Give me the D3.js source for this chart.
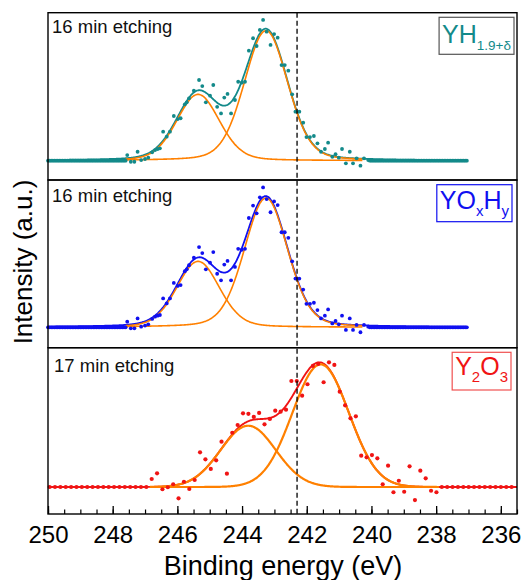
<!DOCTYPE html>
<html><head><meta charset="utf-8">
<script src="https://cdn.jsdelivr.net/npm/d3@7"></script>
<style>
body{margin:0;background:#fff}
svg{display:block}
text{font-family:"Liberation Sans",Arial,Helvetica,sans-serif}
</style>
</head><body>
<svg id="c" width="525" height="580"></svg>
<script>
// ---------------- DATA ----------------
// x ticks (binding energy, eV)
const xTickLabels = [250, 248, 246, 244, 242, 240, 238, 236];
const referenceEnergy = 242.3; // dashed line

// YH(1.9+d) and YOxHy spectra (16 min etching) - measured points in peak region
const energyYH = [247.55,247.44,247.33,247.23,247.12,247.00,246.90,246.78,246.69,246.61,246.54,246.44,246.33,246.23,246.11,245.99,245.90,245.77,245.71,245.64,245.49,245.33,245.23,245.12,244.99,244.89,244.77,244.65,244.55,244.45,244.34,244.22,244.12,244.01,243.91,243.79,243.66,243.55,243.45,243.35,243.24,243.12,243.01,242.90,242.78,242.68,242.57,242.45,242.35,242.23,242.11,242.01,241.90,241.78,241.67,241.56,241.44,241.34,241.21,241.11,241.01,240.91,240.79,240.67,240.57,240.46,240.34,240.23,240.10];
const intensityYH = [0.043,-0.008,-0.008,0.068,0.005,0.013,0.023,0.064,0.081,0.089,0.094,0.221,0.183,0.221,0.340,0.317,0.323,0.429,0.444,0.475,0.533,0.614,0.568,0.444,0.495,0.576,0.410,0.360,0.480,0.508,0.360,0.462,0.601,0.594,0.601,0.837,0.932,0.873,0.995,1.071,0.982,0.881,0.964,0.936,0.728,0.728,0.685,0.505,0.373,0.373,0.289,0.180,0.180,0.188,0.132,0.068,0.089,0.137,0.030,0.049,0.023,0.089,-0.020,0.068,-0.020,0.018,-0.038,0.018,0.005];
// flat baseline segments of the 16 min spectra [start, end, step], intensity 0
const baselineYH = [[250, 247.6, 0.05], [240.05, 237.05, 0.05]];

// Y2O3 spectrum (17 min etching), points on a regular grid
const energyY2O3Start = 249.95, energyY2O3Step = 0.1661, energyY2O3Count = 87;
const peakIndexY2O3 = 19; // first index of the listed values; the rest are baseline (0)
const intensityY2O3 = [0.064,0.109,-0.018,-0.002,0.022,-0.090,0.042,-0.016,0.056,0.277,0.221,0.144,0.213,0.362,0.106,0.433,0.495,0.588,0.584,0.559,0.591,0.500,0.543,0.609,0.601,0.617,0.846,0.846,0.729,0.820,0.966,0.982,0.836,0.995,0.974,0.761,0.652,0.548,0.564,0.250,0.237,0.255,0.229,0.022,0.170,-0.042,0.050,-0.038,0.165,-0.104,0.130,0.069,-0.030,-0.042,0.000,0.000];

// fitted components: centers (eV), heights, FWHM (eV), Lorentz fraction
const fitCentersYH = [245.36, 243.26];
const fitHeightsYH = [0.505, 0.99];
const fitFwhmYH = [1.56, 1.58];
const fitMixYH = 0.2;
const fitRangeYH = [250, 237.05];
const compRangeYH = [247.6, 240.27];

const fitCentersY2O3 = [243.81, 241.57];
const fitHeightsY2O3 = [0.489, 0.979];
const fitFwhmY2O3 = [2.0, 2.05];
const fitMixY2O3 = 0.0;
const fitRangeY2O3 = [250, 235.5];
const compRangeY2O3 = [246.85, 237.9];

const etchLabels = ["16 min etching", "16 min etching", "17 min etching"];

// ---------------- DRAW ----------------
const svg = d3.select("#c");
const L = 48, R = 517;
const x = d3.scaleLinear().domain([250, 235.5]).range([L, R]);

const panels = [
  {top: 12.7, bottom: 180, dom: [-0.1469, 1.1263], color: "#138a8a",
   pts: "YH", centers: fitCentersYH, heights: fitHeightsYH, fwhm: fitFwhmYH, mix: fitMixYH,
   fitRange: fitRangeYH, compRange: compRangeYH, r: 1.9, lw: 1.8, cw: 1.6,
   label: etchLabels[0], lx: 52, ly: 33,
   box: {right: 514, top: 17.3, bottom: 54.3, base: 43, parts: [["YH", 25, 0], ["1.9+δ", 13.5, 1]], stroke: "#555"}},
  {top: 180, bottom: 347.7, dom: [-0.1562, 1.1279], color: "#1010f0",
   pts: "YH", centers: fitCentersYH, heights: fitHeightsYH, fwhm: fitFwhmYH, mix: fitMixYH,
   fitRange: fitRangeYH, compRange: compRangeYH, r: 1.9, lw: 1.8, cw: 1.6,
   label: etchLabels[1], lx: 52, ly: 201.5,
   box: {right: 512, top: 184.7, bottom: 221.7, base: 209, parts: [["YO", 25, 0], ["x", 15, 1], ["H", 25, 0], ["y", 15, 1]], stroke: "#1010f0"}},
  {top: 347.7, bottom: 514, dom: [-0.2155, 1.1118], color: "#f01414",
   pts: "Y2O3", centers: fitCentersY2O3, heights: fitHeightsY2O3, fwhm: fitFwhmY2O3, mix: fitMixY2O3,
   fitRange: fitRangeY2O3, compRange: compRangeY2O3, r: 2.1, lw: 1.9, cw: 2.2,
   label: etchLabels[2], lx: 54, ly: 372,
   box: {right: 511, top: 352.3, bottom: 390, base: 375, parts: [["Y", 25, 0], ["2", 15, 1], ["O", 25, 0], ["3", 15, 1]], stroke: "#f05050"}}
];

function pv(e, c, h, w, eta) {
  const d = e - c;
  const g = Math.exp(-4 * Math.LN2 * d * d / (w * w));
  const l = 1 / (1 + 4 * d * d / (w * w));
  return h * ((1 - eta) * g + eta * l);
}
function sample(a, b) { const out = []; for (let e = a; e >= b - 1e-9; e -= 0.02) out.push(e); return out; }

panels.forEach(p => {
  const y = d3.scaleLinear().domain(p.dom).range([p.bottom, p.top]);
  const g = svg.append("g");
  let pts = [];
  if (p.pts === "YH") {
    baselineYH.forEach(([a, b, s]) => d3.range(a, b - 1e-9, -s).forEach(e => pts.push([e, 0])));
    energyYH.forEach((e, i) => pts.push([e, intensityYH[i]]));
  } else {
    for (let k = 0; k < energyY2O3Count; k++) {
      const e = energyY2O3Start - k * energyY2O3Step;
      const j = k - peakIndexY2O3;
      pts.push([e, (j >= 0 && j < intensityY2O3.length) ? intensityY2O3[j] : 0]);
    }
  }
  const line = d3.line().x(d => x(d[0])).y(d => y(d[1])).curve(d3.curveBasis);
  const fitE = sample(p.fitRange[0], p.fitRange[1]);
  const total = fitE.map(e => [e, p.centers.reduce((s, c, i) => s + pv(e, c, p.heights[i], p.fwhm[i], p.mix), 0)]);
  g.append("path").attr("d", line(total)).attr("fill", "none").attr("stroke", p.color).attr("stroke-width", p.lw);
  const compE = sample(p.compRange[0], p.compRange[1]);
  p.centers.forEach((c, i) => {
    const comp = compE.map(e => [e, pv(e, c, p.heights[i], p.fwhm[i], p.mix)]);
    g.append("path").attr("d", line(comp)).attr("fill", "none").attr("stroke", "#ff8000").attr("stroke-width", p.cw);
  });
  g.selectAll("circle.pt").data(pts).join("circle").attr("class", "pt")
    .attr("cx", d => x(d[0])).attr("cy", d => y(d[1])).attr("r", p.r).attr("fill", p.color);
  svg.append("rect").attr("x", L).attr("y", p.top).attr("width", R - L).attr("height", p.bottom - p.top)
    .attr("fill", "none").attr("stroke", "#000").attr("stroke-width", 1.4);
  svg.append("text").attr("x", p.lx).attr("y", p.ly).attr("font-size", 18.5).attr("fill", "#111").text(p.label);
  const t = svg.append("text").attr("y", p.box.base).attr("fill", p.color).attr("text-anchor", "end").attr("x", p.box.right - 3);
  p.box.parts.forEach(([s, fs, sub], i) => {
    const prevSub = i > 0 ? p.box.parts[i - 1][2] : 0;
    const dy = (sub ? 7 : 0) - (prevSub ? 7 : 0);
    t.append("tspan").attr("font-size", fs).attr("dy", dy).text(s);
  });
  const bb = t.node().getBBox();
  svg.insert("rect", "text:last-of-type").attr("x", bb.x - 3).attr("y", p.box.top)
    .attr("width", p.box.right - bb.x + 3).attr("height", p.box.bottom - p.box.top)
    .attr("fill", "#fff").attr("stroke", p.box.stroke).attr("stroke-width", 1.2);
  t.raise();
});

svg.append("line").attr("x1", x(referenceEnergy)).attr("x2", x(referenceEnergy))
  .attr("y1", 12.7).attr("y2", 514).attr("stroke", "#000").attr("stroke-width", 1.3).attr("stroke-dasharray", "5,3");

const axisG = svg.append("g").attr("transform", "translate(0,514)");
axisG.call(d3.axisBottom(x).tickValues(d3.range(250, 235.4, -0.5)).tickSize(-4.5).tickFormat(""))
  .call(a => a.select(".domain").remove())
  .call(a => a.selectAll("line").attr("stroke", "#000").attr("stroke-width", 1.2));
axisG.append("g")
  .call(d3.axisBottom(x).tickValues(xTickLabels).tickSize(-8).tickPadding(12).tickFormat(d3.format("d")))
  .call(a => a.select(".domain").remove())
  .call(a => a.selectAll("line").attr("stroke", "#000").attr("stroke-width", 1.3))
  .call(a => a.selectAll("text").attr("font-size", 24).attr("fill", "#000")
    .attr("font-family", "Liberation Sans, Arial, sans-serif"));

svg.append("text").attr("x", 283).attr("y", 575).attr("text-anchor", "middle").attr("font-size", 27).attr("fill", "#000")
  .text("Binding energy (eV)");
svg.append("text").attr("transform", "translate(32,262) rotate(-90)").attr("text-anchor", "middle")
  .attr("font-size", 26).attr("fill", "#000").text("Intensity (a.u.)");
</script>
</body></html>
